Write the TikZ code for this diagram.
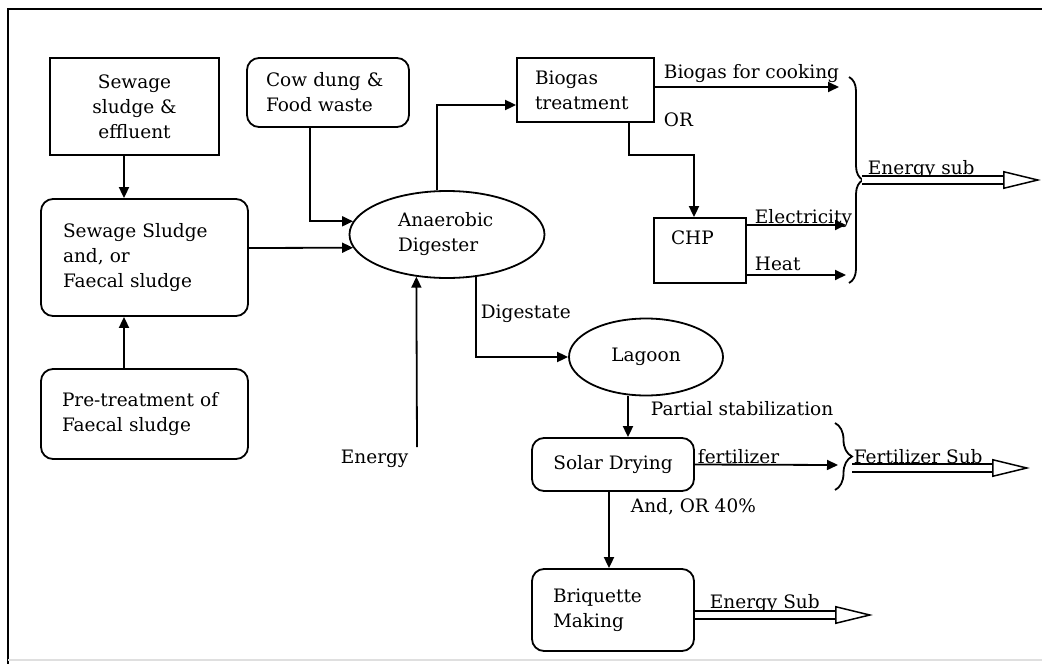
\documentclass[tikz,border=0pt]{standalone}
\usepackage{fontspec}
\setmainfont{DejaVu Serif}
\usetikzlibrary{arrows.meta,shapes.geometric,decorations.pathreplacing,calc}
\newcommand\dfont{\fontsize{18.5}{25}\selectfont}
\begin{document}
\begin{tikzpicture}[x=1pt,y=-1pt, line width=1.8pt,
  every node/.style={font=\dfont},
  arr/.style={-{Triangle[length=11pt,width=10pt]}},
  rbox/.style={draw, rounded corners=12pt, inner sep=0pt, align=left},
  sqbox/.style={draw, inner sep=0pt},
  oval/.style={draw, ellipse, inner sep=0pt},
  lbl/.style={inner sep=0pt, anchor=base west},
  hollow/.style={double=white, double distance=6.5pt, line width=1.5pt,
    -{Triangle[open, length=38pt, width=18pt, line width=1.5pt]}},
  brc/.style={decorate, decoration={brace, amplitude=#1}}]
\useasboundingbox (0,0) rectangle (1042,664);
\fill[white] (0,0) rectangle (1042,664);
% frame
\draw[line width=2pt] (8,664) -- (8,9) -- (1042,9);
\draw[gray!25, line width=1.5pt] (8,660) -- (1042,660);

% nodes
\node[sqbox, minimum width=169pt, minimum height=97pt, align=center] (sse) at (134.5,106.5) {Sewage\\ sludge \&\\ effluent};
\node[rbox, minimum width=207pt, minimum height=117pt, text width=163pt] (ssf) at (144.5,257.5) {\mbox{Sewage Sludge}\\ and, or\\ \mbox{Faecal sludge}};
\node[rbox, minimum width=207pt, minimum height=90pt, text width=165pt] (pre) at (144.5,414) {\mbox{Pre-treatment of}\\ \mbox{Faecal sludge}};
\node[rbox, minimum width=162pt, minimum height=69pt, text width=124pt] (cow) at (328,92.5) {\mbox{Cow dung \&}\\ \mbox{Food waste}};
\node[oval, minimum width=195pt, minimum height=87pt, text width=98pt, align=left] (ad) at (447,234.5) {Anaerobic\\ Digester};
\node[sqbox, minimum width=137pt, minimum height=64pt, text width=101pt, align=left] (bio) at (585.5,90) {Biogas\\ treatment};
\node[sqbox, minimum width=92pt, minimum height=65pt, text width=58pt, align=left] (chp) at (700,250.5) {CHP\\ \mbox{}};
\node[oval, minimum width=154pt, minimum height=77pt] (lagoon) at (646,357) {Lagoon};
\node[rbox, minimum width=162pt, minimum height=53pt] (solar) at (613,464.5) {Solar Drying};
\node[rbox, minimum width=162pt, minimum height=82pt, text width=120pt] (briq) at (613,610) {Briquette\\ Making};

% labels
\node[lbl] (lcook) at (663,78) {Biogas for cooking};
\node[lbl] (lor) at (663,126) {OR};
\node[lbl] (lelec) at (754,223) {Electricity};
\node[lbl] (lheat) at (754,270) {Heat};
\node[lbl] (lensub) at (867,174) {Energy sub};
\node[lbl] (ldig) at (480,318) {Digestate};
\node[lbl] (lenergy) at (340,463) {Energy};
\node[lbl] (lpart) at (650,415) {Partial stabilization};
\node[lbl] (lfert) at (697,463) {fertilizer};
\node[lbl] (lfsub) at (853,463) {Fertilizer Sub};
\node[lbl] (land) at (630,512) {And, OR 40\%};
\node[lbl] (lesub) at (709,608) {Energy Sub};

% free ends
\coordinate (cookend) at (839,87);
\coordinate (elecend) at (846,225);
\coordinate (heatend) at (846,275);
\coordinate (btop) at (849,77);
\coordinate (bbot) at (849,283);
\coordinate (etip) at (862,180);
\coordinate (eend) at (1041,180);
\coordinate (enstart) at (417,447);
\coordinate (fertend) at (838,465);
\coordinate (fbtop) at (835,423);
\coordinate (fbbot) at (835,490);
\coordinate (ftip) at (852,468);
\coordinate (fend) at (1030,468);
\coordinate (bend) at (873,615);

% connectors
\draw[arr] ([xshift=-10.5pt]sse.south) -- ([xshift=-20.5pt]ssf.north);
\draw[arr] ([xshift=-20.5pt]pre.north) -- ([xshift=-20.5pt]ssf.south);
\draw[arr] ([xshift=-18pt]cow.south) |- (ad.172);
\draw[arr] ([yshift=9.5pt]ssf.east) -- (ad.188);
\draw[arr] ([xshift=-10pt]ad.north) |- ([yshift=-15pt]bio.west);
\draw[arr] ([yshift=3pt]bio.east) -- (cookend);
\draw[arr] ([xshift=43.5pt]bio.south) -- ++(0,32) -| ([xshift=-6pt]chp.north);
\draw[arr] ([yshift=25.5pt]chp.east) -- (elecend);
\draw[arr] ([yshift=-24.5pt]chp.east) -- (heatend);
\draw[brc=14pt] (btop) -- (bbot);
\draw[hollow] (etip) -- (eend);
\draw[arr] (enstart) -- (ad.234);
\draw[arr] (ad.304) |- (lagoon.west);
\draw[arr] ([xshift=15pt]solar.north |- lagoon.south) -- ([xshift=15pt]solar.north);
\draw[arr] (solar.east) -- (fertend);
\draw[brc=17pt] (fbtop) -- (fbbot);
\draw[hollow] (ftip) -- (fend);
\draw[arr] ([xshift=-4pt]solar.south) -- ([xshift=-4pt]briq.north);
\draw[hollow] ([yshift=-5pt]briq.east) -- (bend);
\end{tikzpicture}
\end{document}
